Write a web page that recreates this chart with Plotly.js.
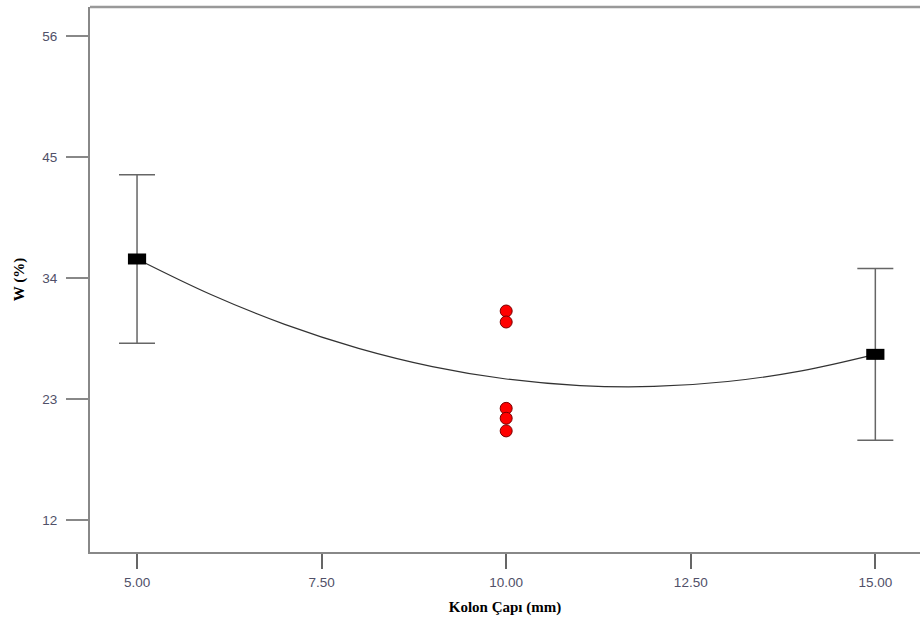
<!DOCTYPE html>
<html><head><meta charset="utf-8">
<script src="https://cdn.plot.ly/plotly-3.0.1.min.js"></script>
<style>html,body{margin:0;padding:0;background:#fff}#chart{width:920px;height:623px}</style>
</head><body><div id="chart"></div>
<script>
// Factor levels (Kolon Çapı, mm) and predicted W (%) with error bars
const levelX = [5, 15];
const levelY = [35.73, 27.06];
const levelErr = [7.65, 7.8];
// Observed design points at centre (10 mm)
const obsX = [10, 10, 10, 10, 10];
const obsY = [31.0, 30.0, 22.15, 21.25, 20.1];
// Fitted curve
const curveX = [5, 6, 7, 8, 9, 10, 11, 12, 13, 14, 15];
const curveY = [35.73, 32.50, 29.79, 27.61, 25.95, 24.82, 24.22, 24.14, 24.59, 25.56, 27.06];
// Axis ticks
const xTicks = [5, 7.5, 10, 12.5, 15];
const yTicks = [12, 23, 34, 45, 56];

const traces = [
  {x: curveX, y: curveY, mode: 'lines', line: {color: '#333', width: 1.2, shape: 'spline'}, hoverinfo: 'skip'},
  {x: levelX, y: levelY, mode: 'markers', type: 'scatter',
   error_y: {type: 'data', array: levelErr, visible: true, color: '#666', thickness: 1.5, width: 18},
   marker: {symbol: 'line-ew', size: 13, color: '#000', line: {color: '#000', width: 11}}},
  {x: obsX, y: obsY, mode: 'markers',
   marker: {symbol: 'circle', size: 12, color: '#ff0000', line: {color: '#7a0000', width: 1}}}
];

const axFont = {family: 'Liberation Sans, Arial, sans-serif', size: 13.5, color: '#505068'};
const layout = {
  width: 920, height: 623,
  margin: {l: 90, r: 0, t: 7, b: 71},
  paper_bgcolor: '#fff', plot_bgcolor: '#fff',
  showlegend: false,
  xaxis: {range: [4.363, 15.605], tickvals: xTicks, tickformat: '.2f', showgrid: false, zeroline: false,
    showline: true, linecolor: '#888', linewidth: 2, ticks: 'outside', ticklen: 15, tickwidth: 2, tickcolor: '#666',
    tickfont: axFont, automargin: false, ticklabelstandoff: 2,
    title: {text: 'Kolon Çapı (mm)', font: {family: 'Liberation Serif, Times New Roman, serif', size: 15, color: '#000', weight: 'bold'}, standoff: 12}},
  yaxis: {range: [9.09, 58.64], tickvals: yTicks, showgrid: false, zeroline: false,
    showline: true, linecolor: '#888', linewidth: 2, ticks: 'outside', ticklen: 22, tickwidth: 2, tickcolor: '#888',
    tickfont: axFont, automargin: false, ticklabelstandoff: 6,
    title: {text: 'W (%)', font: {family: 'Liberation Serif, Times New Roman, serif', size: 15, color: '#000', weight: 'bold'}, standoff: 14}},
  shapes: [{type: 'line', xref: 'paper', yref: 'paper', x0: 0, x1: 1, y0: 1, y1: 1, line: {color: '#999', width: 2.5}}]
};
Plotly.newPlot('chart', traces, layout, {displayModeBar: false, staticPlot: true});
</script></body></html>
